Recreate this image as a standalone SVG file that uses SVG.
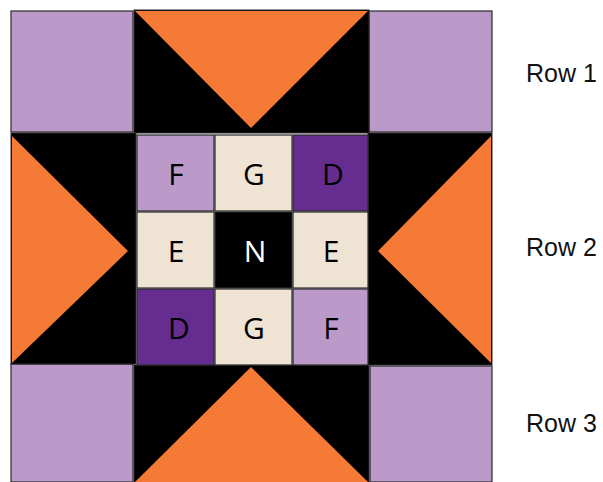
<svg xmlns="http://www.w3.org/2000/svg" width="603" height="482" viewBox="0 0 603 482">
<style>
.lav{fill:#BB9ACA;stroke:#2a2a2a;stroke-width:1.2}
.blk{fill:#000;stroke:#2a2a2a;stroke-width:1}
.org{fill:#F47A36}
.dp{fill:#662D91;stroke:#2a2a2a;stroke-width:1.2}
.cr{fill:#EFE3D3;stroke:#2a2a2a;stroke-width:1.2}
.ctr{fill:#000;stroke:#2a2a2a;stroke-width:1.2}
.lt{font-family:"Open Sans","DejaVu Sans",sans-serif;font-size:30px;text-anchor:middle;fill:#000}
.rl{font-family:"Liberation Sans",Arial,sans-serif;font-size:25px;fill:#111}
</style>
<rect width="603" height="482" fill="#fff"/>
<g id="corner-tl"><rect class="lav" x="11" y="11" width="122" height="121"/></g>
<g id="corner-tr"><rect class="lav" x="369" y="11" width="123" height="121"/></g>
<g id="corner-bl"><rect class="lav" x="11" y="364" width="122" height="118"/></g>
<g id="corner-br"><rect class="lav" x="370" y="366" width="122" height="116"/></g>
<g id="geese-top"><rect class="blk" x="134" y="10" width="235" height="123"/><polygon class="org" points="135,11 368,11 251,128"/></g>
<g id="geese-bottom"><rect class="blk" x="134" y="365" width="235" height="117"/><polygon class="org" points="135,482 368,482 251,367"/></g>
<g id="geese-left"><rect class="blk" x="11" y="133" width="125" height="231"/><polygon class="org" points="12,136 128,251 12,363"/></g>
<g id="geese-right"><rect class="blk" x="368" y="133" width="124" height="232"/><polygon class="org" points="491,136 378,251 491,363"/></g>
<g id="cell-F1"><rect class="lav" x="137" y="135" width="77" height="76"/><text class="lt" x="176" y="185">F</text></g>
<g id="cell-G1"><rect class="cr" x="215" y="135" width="77" height="76"/><text class="lt" x="254" y="185">G</text></g>
<g id="cell-D1"><rect class="dp" x="293" y="135" width="75" height="76"/><text class="lt" x="333" y="185">D</text></g>
<g id="cell-E1"><rect class="cr" x="137" y="212" width="77" height="76"/><text class="lt" x="176" y="262">E</text></g>
<g id="cell-N"><rect class="ctr" x="215" y="212" width="77" height="76"/><text class="lt" x="255" y="262" style="fill:#fff">N</text></g>
<g id="cell-E2"><rect class="cr" x="293" y="212" width="75" height="76"/><text class="lt" x="331" y="262">E</text></g>
<g id="cell-D2"><rect class="dp" x="137" y="289" width="77" height="76"/><text class="lt" x="179" y="339">D</text></g>
<g id="cell-G2"><rect class="cr" x="215" y="289" width="77" height="76"/><text class="lt" x="254" y="339">G</text></g>
<g id="cell-F2"><rect class="lav" x="293" y="289" width="75" height="76"/><text class="lt" x="331" y="339">F</text></g>
<g id="labels">
<text class="rl" x="526" y="82">Row 1</text>
<text class="rl" x="526" y="256">Row 2</text>
<text class="rl" x="526" y="432">Row 3</text>
</g>
<g id="connectors"/>
</svg>
